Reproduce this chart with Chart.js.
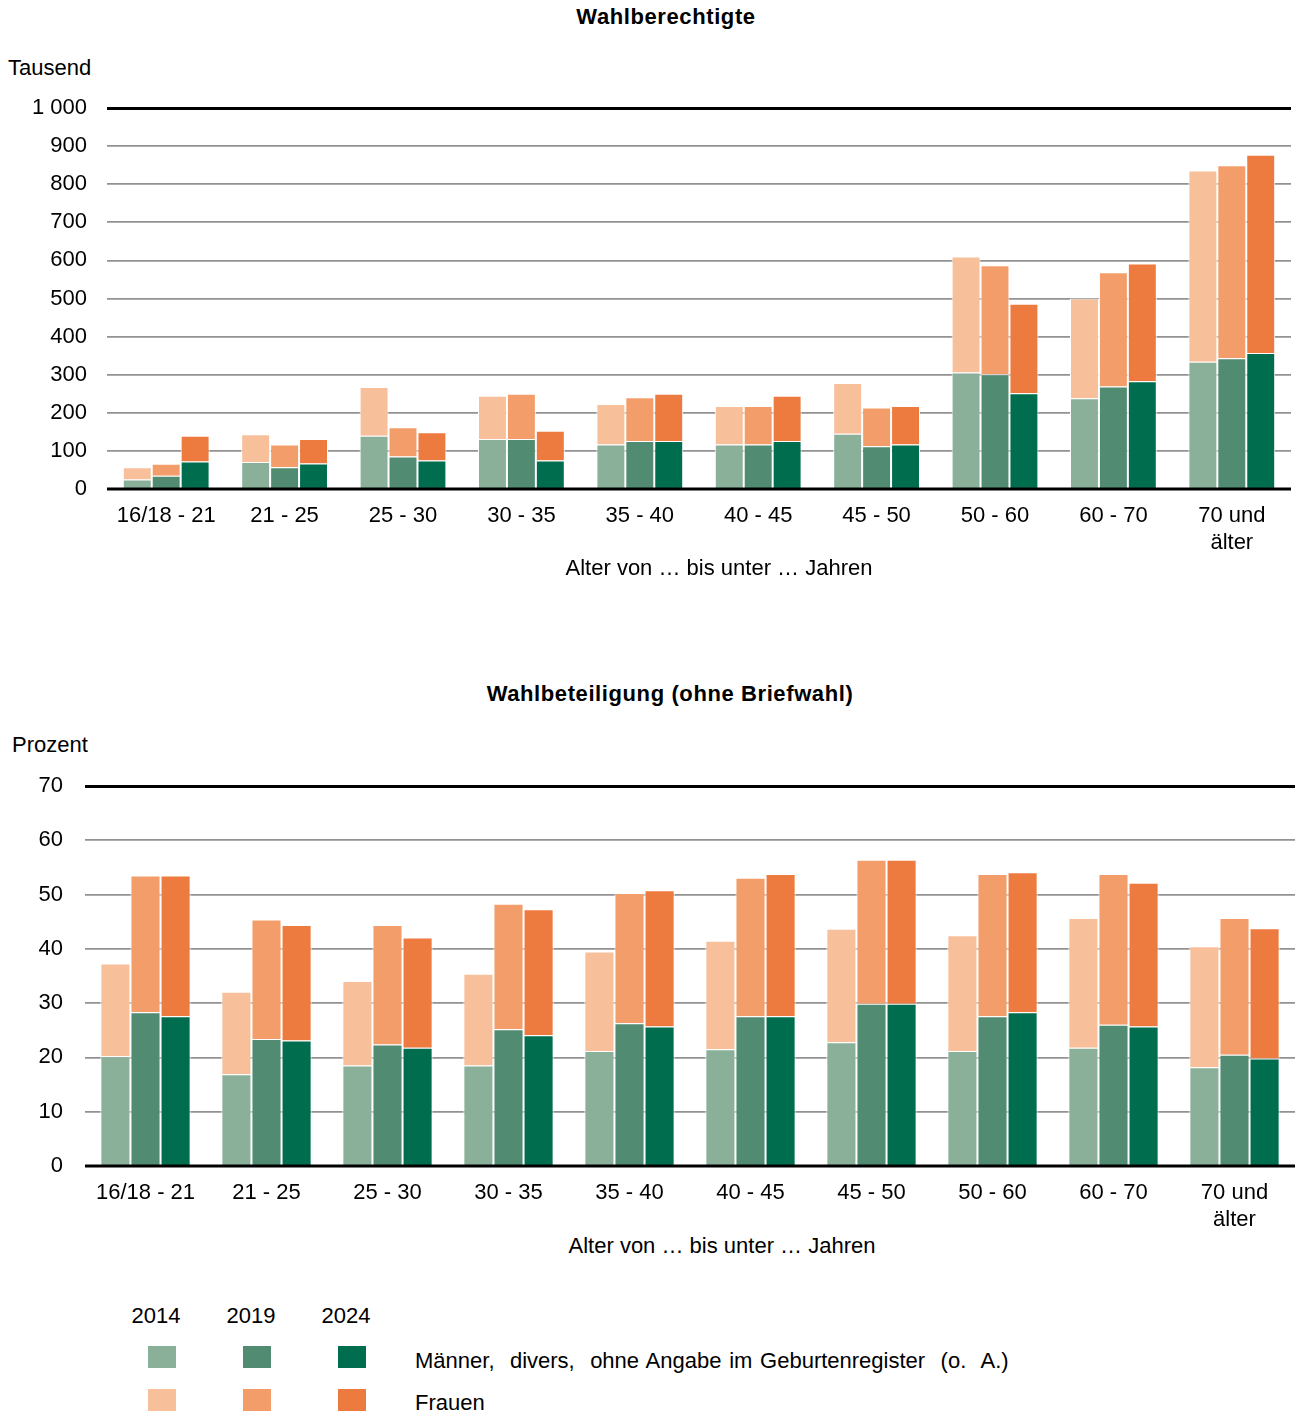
<!DOCTYPE html>
<html><head><meta charset="utf-8">
<script src="https://cdn.jsdelivr.net/npm/chart.js@4.4.0/dist/chart.umd.min.js"></script>
<style>
body{margin:0;background:#fff;width:1298px;height:1415px;position:relative;overflow:hidden;font-family:"Liberation Sans",Arial,sans-serif;color:#000}
.t{position:absolute;font-size:22px;white-space:nowrap;line-height:1;transform:translateY(-50%)}
.c{transform:translate(-50%,-50%)}
.b{font-weight:bold;letter-spacing:0.6px}
.sq{position:absolute;width:28px;height:22px}
canvas{position:absolute;left:0}
</style></head>
<body>
<div class="t c b" style="left:666px;top:17px">Wahlberechtigte</div>
<div class="t" style="left:8px;top:68px">Tausend</div>
<canvas id="c1" width="1298" height="480" style="top:90px;width:1298px;height:480px"></canvas>
<div class="t c" style="left:719px;top:568px">Alter von … bis unter … Jahren</div>

<div class="t c b" style="left:670px;top:694px">Wahlbeteiligung (ohne Briefwahl)</div>
<div class="t" style="left:12px;top:745px">Prozent</div>
<canvas id="c2" width="1298" height="456" style="top:770px;width:1298px;height:456px"></canvas>
<div class="t c" style="left:722px;top:1246px">Alter von … bis unter … Jahren</div>

<div id="legend"></div>
<script>
const categories = ['16/18 - 21','21 - 25','25 - 30','30 - 35','35 - 40','40 - 45','45 - 50','50 - 60','60 - 70',['70 und','älter']];
const years = ['2014','2019','2024'];

// Wahlberechtigte (Tausend)
const eligMen2014   = [25, 71, 140, 131, 117, 117, 145, 306, 238, 334];
const eligWomen2014 = [32, 73, 128, 114, 106, 101, 133, 304, 262, 502];
const eligMen2019   = [35, 57, 85, 131, 126, 117, 112, 301, 269, 343];
const eligWomen2019 = [31, 60, 77, 119, 115, 101, 102, 286, 300, 507];
const eligMen2024   = [72, 67, 75, 75, 126, 126, 117, 251, 283, 357];
const eligWomen2024 = [68, 64, 74, 78, 124, 119, 101, 235, 309, 520];
const eligTickLabels = ['0','100','200','300','400','500','600','700','800','900','1 000'];

// Wahlbeteiligung (Prozent)
const turnMen2014   = [20.2, 16.9, 18.5, 18.5, 21.2, 21.5, 22.8, 21.2, 21.8, 18.2];
const turnWomen2014 = [17.1, 15.2, 15.6, 16.9, 18.3, 20.0, 20.9, 21.3, 23.9, 22.3];
const turnMen2019   = [28.3, 23.4, 22.4, 25.2, 26.3, 27.6, 29.9, 27.6, 26.0, 20.5];
const turnWomen2019 = [25.2, 22.0, 22.0, 23.1, 24.0, 25.5, 26.5, 26.2, 27.8, 25.2];
const turnMen2024   = [27.6, 23.1, 21.8, 24.1, 25.7, 27.6, 29.9, 28.3, 25.7, 19.8];
const turnWomen2024 = [25.9, 21.3, 20.3, 23.2, 25.1, 26.2, 26.5, 25.8, 26.5, 24.0];
const turnTickLabels = ['0','10','20','30','40','50','60','70'];

const menColors   = ['#8bb09a', '#508b72', '#006e4e'];
const womenColors = ['#f8bf9b', '#f39e6a', '#ed7a3e'];

Chart.defaults.font.family = "'Liberation Sans', Arial, sans-serif";
Chart.defaults.font.size = 22;
Chart.defaults.color = '#000';

const baseline = {
  id: 'baseline',
  afterDatasetsDraw(chart) {
    const {ctx, chartArea, scales} = chart;
    const y = scales.y.getPixelForValue(0);
    ctx.save();
    ctx.strokeStyle = '#000';
    ctx.lineWidth = 3;
    ctx.beginPath();
    ctx.moveTo(chartArea.left, y);
    ctx.lineTo(chartArea.right, y);
    ctx.stroke();
    ctx.restore();
  }
};

function makeChart(id, men, women, max, step, tickLabels, cfg) {
  const datasets = [];
  years.forEach((yr, i) => {
    datasets.push({label: 'Männer ' + yr, data: men[i], backgroundColor: menColors[i], stack: yr,
      borderColor: '#fff', borderWidth: 1});
    datasets.push({label: 'Frauen ' + yr, data: women[i], backgroundColor: womenColors[i], stack: yr,
      borderColor: '#fff', borderWidth: 1});
  });
  return new Chart(document.getElementById(id), {
    type: 'bar',
    data: {labels: categories, datasets},
    options: {
      responsive: false, animation: false,
      layout: {padding: {top: cfg.padTop, right: cfg.padRight, left: 0, bottom: 0}},
      plugins: {legend: {display: false}, tooltip: {enabled: false}, title: {display: false}},
      datasets: {bar: {categoryPercentage: cfg.catPct, barPercentage: 1.0}},
      scales: {
        x: {
          stacked: true,
          grid: {display: false, drawTicks: false},
          border: {display: false},
          ticks: {padding: cfg.xPad, font: {size: 22, lineHeight: 1.23}, maxRotation: 0, autoSkip: false},
          afterFit(s) { s.height = cfg.xHeight; }
        },
        y: {
          stacked: true, min: 0, max: max,
          grid: {
            drawTicks: false,
            color: c => c.tick.value === max ? '#000' : (c.tick.value === 0 ? 'rgba(0,0,0,0)' : '#929292'),
            lineWidth: c => c.tick.value === max ? 3 : 1.8
          },
          border: {display: false},
          ticks: {stepSize: step, padding: cfg.yPad, callback: (v, i) => tickLabels[i]},
          afterFit(s) { s.width = cfg.yWidth; s.paddingTop = 0; s.paddingBottom = 0; }
        }
      }
    },
    plugins: [baseline]
  });
}

makeChart('c1', [eligMen2014, eligMen2019, eligMen2024], [eligWomen2014, eligWomen2019, eligWomen2024],
  1000, 100, eligTickLabels,
  {padTop: 18, padRight: 7, yWidth: 107, yPad: 20, xHeight: 81, xPad: 13, catPct: 0.733});

makeChart('c2', [turnMen2014, turnMen2019, turnMen2024], [turnWomen2014, turnWomen2019, turnWomen2024],
  70, 10, turnTickLabels,
  {padTop: 16, padRight: 3, yWidth: 85, yPad: 22, xHeight: 60, xPad: 13, catPct: 0.746});

// legend
const lg = document.getElementById('legend');
const xs = [148, 243, 338];
years.forEach((yr, i) => {
  const t = document.createElement('div');
  t.className = 't c'; t.style.left = (xs[i] + 8) + 'px'; t.style.top = '1316px'; t.textContent = yr;
  lg.appendChild(t);
  const a = document.createElement('div');
  a.className = 'sq'; a.style.left = xs[i] + 'px'; a.style.top = '1346px'; a.style.background = menColors[i];
  lg.appendChild(a);
  const b = document.createElement('div');
  b.className = 'sq'; b.style.left = xs[i] + 'px'; b.style.top = '1389px'; b.style.background = womenColors[i];
  lg.appendChild(b);
});
const l1 = document.createElement('div');
l1.className = 't'; l1.style.left = '415px'; l1.style.top = '1361px'; l1.style.wordSpacing = '1.6px';
l1.innerHTML = 'Männer,&nbsp; divers,&nbsp; ohne Angabe im Geburtenregister&nbsp; (o.&nbsp; A.)';
lg.appendChild(l1);
const l2 = document.createElement('div');
l2.className = 't'; l2.style.left = '415px'; l2.style.top = '1403px'; l2.textContent = 'Frauen';
lg.appendChild(l2);
</script>
</body></html>
